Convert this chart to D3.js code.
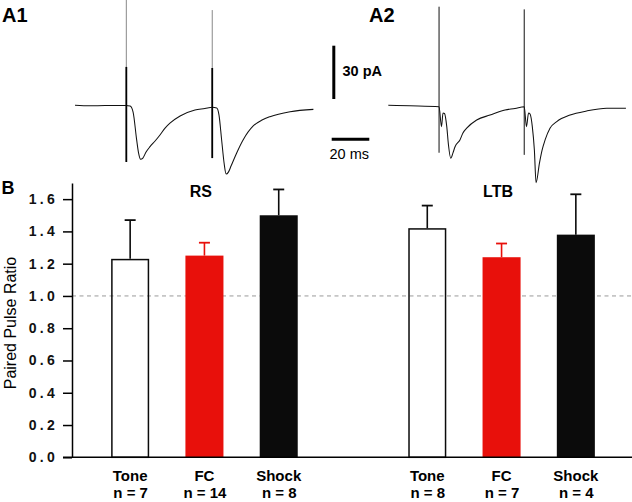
<!DOCTYPE html>
<html>
<head>
<meta charset="utf-8">
<script src="https://cdnjs.cloudflare.com/ajax/libs/d3/7.8.5/d3.min.js"></script>
<style>
  html, body { margin: 0; padding: 0; background: #fff; }
  svg { display: block; }
  text { font-family: "Liberation Sans", Arial, Helvetica, sans-serif; }
</style>
</head>
<body>
<svg id="chart" width="632" height="502"></svg>
<script>
// ---------------- DATA ----------------
// Panel A traces: time (ms), current (pA, relative to baseline)
const a1Time    = [0, 8, 16, 27.1, 29.3, 30.9, 32.8, 33.8, 34.9, 36.1, 37.8, 39.9, 42.6, 45.2, 47.9, 50.5, 55.9, 63.8, 69.1, 73.0, 75.4, 76.6, 78.0, 79.3, 80.4, 81.6, 83.0, 86.0, 89.4, 94.8, 99.5, 103.7, 114.4, 126.8];
const a1Current = [0, -0.3, -0.1, -0.1, -0.4, -3.8, -19.5, -26.8, -30.4, -29.7, -26.3, -23.3, -20.1, -16.7, -12.8, -10.0, -6.0, -2.6, -1.8, -1.1, -1.5, -5.5, -19.5, -32.5, -38.7, -37.6, -34.2, -26.8, -19.5, -11.6, -8.3, -6.4, -3.6, -2.3];
const a2Time    = [0, 11.5, 27.0, 28.3, 29.1, 29.9, 31.1, 32.0, 33.2, 34.4, 35.5, 38.1, 39.7, 41.7, 47.0, 54.1, 62.1, 67.4, 72.3, 73.5, 74.6, 75.4, 76.6, 77.7, 78.6, 80.4, 81.8, 83.4, 86.0, 89.6, 96.7, 105.5, 116.2, 126.4];
const a2Current = [0, -0.3, -0.8, -12.0, -4.3, -4.6, -12.0, -22.3, -29.8, -26.8, -23.3, -19.5, -15.6, -12.9, -8.3, -5.5, -2.6, -1.8, -0.8, -12.0, -4.3, -4.9, -12.0, -25.2, -43.6, -32.5, -25.2, -19.5, -12.9, -9.2, -5.5, -3.2, -1.7, -1.7];
// stimulus artifacts: time, upper extent, lower extent (pA), start of dense part
const a1StimTime = [27.3, 73.0];
const a1StimHi   = [59.3, 53.6];
const a1StimLo   = [-31.9, -29.7];
const a1StimDense = [21.6, 21.0];
const a2StimTime = [27.0, 72.3];
const a2StimHi   = [55.5, 54.0];
const a2StimLo   = [-26.7, -27.9];
const scaleBarPA = 30;
const scaleBarMs = 20;

// Panel B
const groups = ["RS", "LTB"];
const conditions = ["Tone", "FC", "Shock"];
const rsMeans  = [1.23, 1.25, 1.50];
const rsSem    = [0.24, 0.08, 0.16];
const rsN      = [7, 14, 8];
const ltbMeans = [1.42, 1.24, 1.38];
const ltbSem   = [0.14, 0.085, 0.25];
const ltbN     = [8, 7, 4];
const yTicks   = [0, 0.2, 0.4, 0.6, 0.8, 1.0, 1.2, 1.4, 1.6];
const refLine  = 1.0;

// ---------------- DRAW ----------------
const svg = d3.select("#chart");
const RED = "#e8100b", BLACK = "#0b0b0b";

// Panel labels
svg.append("text").attr("x", 2).attr("y", 21.7).attr("font-size", 20).attr("font-weight", "bold").text("A1");
svg.append("text").attr("x", 369).attr("y", 21.7).attr("font-size", 20).attr("font-weight", "bold").text("A2");
svg.append("text").attr("x", 1.5).attr("y", 193.5).attr("font-size", 18).attr("font-weight", "bold").text("B");

// Trace scales
const pxPerMs = 37.6 / 20;
const yTrace = d3.scaleLinear().domain([0, 30]).range([105.3, 105.3 - 53.3]);
function drawTrace(x0, times, currents, stimT, stimHi, stimLo, stimDense) {
  const xs = d3.scaleLinear().domain([0, 20]).range([x0, x0 + 20 * pxPerMs]);
  const pts = times.map((t, i) => [t, currents[i]]);
  const line = d3.line().x(d => xs(d[0])).y(d => yTrace(d[1])).curve(d3.curveMonotoneX);
  svg.append("path").attr("d", line(pts)).attr("fill", "none")
     .attr("stroke", "#111").attr("stroke-width", 1.05);
  stimT.forEach((t, i) => {
    svg.append("line").attr("x1", xs(t)).attr("x2", xs(t))
      .attr("y1", yTrace(stimHi[i])).attr("y2", yTrace(stimLo[i]))
      .attr("stroke", stimDense ? "#888" : "#111").attr("stroke-width", 1);
    if (stimDense) {
      svg.append("line").attr("x1", xs(t)).attr("x2", xs(t))
        .attr("y1", yTrace(stimDense[i])).attr("y2", yTrace(stimLo[i]))
        .attr("stroke", "#000").attr("stroke-width", 1.8);
    }
  });
  return xs;
}
drawTrace(75, a1Time, a1Current, a1StimTime, a1StimHi, a1StimLo, a1StimDense);
drawTrace(388.3, a2Time, a2Current, a2StimTime, a2StimHi, a2StimLo, null);

// Scale bars
const vbX = 333.8, vbBottom = 99;
svg.append("line").attr("x1", vbX).attr("x2", vbX)
   .attr("y1", vbBottom).attr("y2", vbBottom - (yTrace(0) - yTrace(scaleBarPA)))
   .attr("stroke", "#000").attr("stroke-width", 3);
svg.append("text").attr("x", 342.5).attr("y", 75.5).attr("font-size", 14.5).attr("font-weight", "bold").text(scaleBarPA + " pA");
const hbX = 331.7, hbY = 139.2;
svg.append("line").attr("x1", hbX).attr("x2", hbX + scaleBarMs * pxPerMs)
   .attr("y1", hbY).attr("y2", hbY).attr("stroke", "#000").attr("stroke-width", 3);
svg.append("text").attr("x", 329.5).attr("y", 159).attr("font-size", 14.5).text(scaleBarMs + " ms");

// Bar chart
const slots = ["RS|Tone", "RS|FC", "RS|Shock", "gap", "LTB|Tone", "LTB|FC", "LTB|Shock"];
const x = d3.scaleBand().domain(slots).range([74, 632]).paddingInner(0.488).paddingOuter(0.5);
const y = d3.scaleLinear().domain([0, 1.7]).range([457.3, 183]);
const axisX = 72;

const bars = [];
groups.forEach((g, gi) => {
  const means = gi === 0 ? rsMeans : ltbMeans;
  const sems = gi === 0 ? rsSem : ltbSem;
  const ns = gi === 0 ? rsN : ltbN;
  conditions.forEach((c, ci) => bars.push({ g, c, key: g + "|" + c, mean: means[ci], sem: sems[ci], n: ns[ci] }));
});

// dashed reference line (behind bars)
svg.append("line").attr("x1", axisX).attr("x2", 632)
   .attr("y1", y(refLine)).attr("y2", y(refLine))
   .attr("stroke", "#9a9a9a").attr("stroke-width", 1).attr("stroke-dasharray", "4,3.5");

const fillOf = c => c === "Tone" ? "none" : (c === "FC" ? RED : BLACK);
const errColOf = c => c === "FC" ? RED : BLACK;

// error bars
bars.forEach(b => {
  const cx = x(b.key) + x.bandwidth() / 2;
  svg.append("line").attr("x1", cx).attr("x2", cx).attr("y1", y(b.mean)).attr("y2", y(b.mean + b.sem))
     .attr("stroke", errColOf(b.c)).attr("stroke-width", 1.6);
  svg.append("line").attr("x1", cx - 5.5).attr("x2", cx + 5.5).attr("y1", y(b.mean + b.sem)).attr("y2", y(b.mean + b.sem))
     .attr("stroke", errColOf(b.c)).attr("stroke-width", 1.8);
});

// bars
svg.selectAll("rect.bar").data(bars).enter().append("rect")
  .attr("class", "bar")
  .attr("x", d => x(d.key) + (d.c === "Tone" ? 0.75 : 0))
  .attr("width", d => x.bandwidth() - (d.c === "Tone" ? 1.5 : 0))
  .attr("y", d => y(d.mean) + (d.c === "Tone" ? 0.75 : 0))
  .attr("height", d => y(0) - y(d.mean) - (d.c === "Tone" ? 0.75 : 0))
  .attr("fill", d => fillOf(d.c))
  .attr("stroke", d => d.c === "Tone" ? BLACK : "none")
  .attr("stroke-width", 1.5);

// y axis
const yAxis = d3.axisLeft(y).tickValues(yTicks).tickFormat(d3.format(".1f")).tickSize(9).tickSizeOuter(0).tickPadding(5);
const gy = svg.append("g").attr("transform", `translate(${axisX},0)`).call(yAxis);
gy.select(".domain").attr("stroke", "#000").attr("stroke-width", 1.5);
gy.selectAll(".tick line").attr("stroke", "#000").attr("stroke-width", 1.5);
gy.selectAll(".tick text").attr("font-size", 14).attr("font-weight", "bold")
  .attr("font-family", '"Liberation Sans", Arial, sans-serif')
  .attr("fill", "#111").style("letter-spacing", "3.3px");

// x axis baseline
svg.append("line").attr("x1", 63).attr("x2", 632).attr("y1", y(0)).attr("y2", y(0))
   .attr("stroke", "#000").attr("stroke-width", 1.6);

// y axis title
svg.append("text").attr("transform", `translate(15.5, ${323}) rotate(-90)`)
   .attr("text-anchor", "middle").attr("font-size", 16).text("Paired Pulse Ratio");

// group titles
groups.forEach(g => {
  const cx = x(g + "|FC") + x.bandwidth() / 2 - 3.5;
  svg.append("text").attr("x", cx).attr("y", 196.5).attr("text-anchor", "middle")
     .attr("font-size", 16).attr("font-weight", "bold").text(g);
});

// category labels
bars.forEach(b => {
  const cx = x(b.key) + x.bandwidth() / 2;
  svg.append("text").attr("x", cx).attr("y", 480.5).attr("text-anchor", "middle")
     .attr("font-size", 15).attr("font-weight", "bold").text(b.c);
  svg.append("text").attr("x", cx + 0.5).attr("y", 498.3).attr("text-anchor", "middle")
     .attr("font-size", 15).attr("font-weight", "bold").text("n = " + b.n);
});
</script>
</body>
</html>
